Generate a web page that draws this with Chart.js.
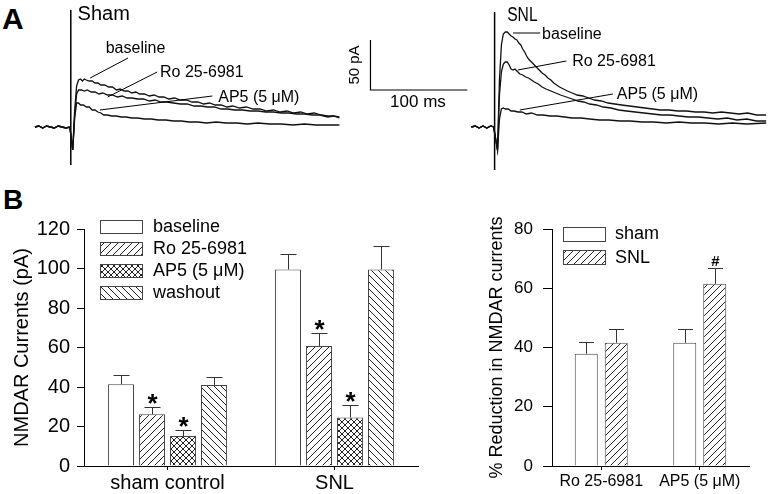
<!DOCTYPE html>
<html><head><meta charset="utf-8">
<script src="https://cdn.jsdelivr.net/npm/chart.js@4"></script>
<style>
html,body{margin:0;padding:0;background:#fff;width:771px;height:494px;overflow:hidden;font-family:"Liberation Sans",Arial,sans-serif;}
.c{position:absolute;}
.lbl{position:absolute;font-weight:bold;line-height:1;color:#000;}
</style></head><body>
<div class="lbl" style="left:2px;top:4px;font-size:30px">A</div>
<div class="lbl" style="left:3px;top:186px;font-size:28px">B</div>
<canvas id="ca" class="c" style="left:0;top:0" width="771" height="170"></canvas>
<canvas id="cb1" class="c" style="left:0;top:200px" width="440" height="294"></canvas>
<canvas id="cb2" class="c" style="left:470px;top:200px" width="301" height="294"></canvas>
<script>
// ---------- Panel A : NMDAR current traces (t in ms from stimulus, current in pA) ----------
const panelAWidthMs = 795;
const shamOnset = 73;
const snlOnset = 510;
const shamPre = [[-37,0],[-33,1],[-29,-1],[-25,1],[-21,0],[-17,-1],[-13,1],[-9,0],[-5,-1],[-1,0]];
const snlPre = [[-24,0],[-20,1],[-16,-1],[-12,1],[-8,-1],[-4,1],[-1,0]];
const shamBaseline = [[2,-23],[4,17],[6,41],[8,47],[10,48],[12,46],[14,48],[16,47],[19,46],[22,46],[25,44],[28,44],[31,42],[35,42],[39,40],[43,40],[47,37],[51,38],[55,36],[59,36],[63,34],[67,35],[71,33],[76,33],[81,31],[86,32],[91,30],[96,30],[101,28],[107,29],[113,27],[119,27],[125,25],[131,25],[137,23],[143,24],[149,22],[155,22],[161,20],[167,21],[174,19],[181,20],[188,18],[195,18],[202,16],[209,17],[216,15],[223,16],[230,14],[237,15],[244,13],[251,14],[258,12],[265,11],[271,11],[277,10]];
const shamRo = [[2,-23],[4,12],[6,33],[8,37],[11,37],[14,36],[17,37],[21,35],[25,35],[29,33],[33,34],[38,32],[43,32],[48,30],[53,31],[58,29],[63,29],[69,28],[75,28],[81,26],[87,27],[93,25],[99,25],[106,24],[113,23],[120,23],[127,21],[134,21],[141,20],[148,20],[155,18],[162,18],[169,17],[177,17],[185,16],[193,16],[201,15],[209,15],[217,14],[225,14],[233,13],[241,13],[249,12],[257,12],[265,10],[271,11],[277,9]];
const shamAP5 = [[2,-23],[4,9],[6,24],[8,24],[10,22],[13,22],[16,20],[19,20],[22,17],[25,17],[28,15],[31,14],[34,12],[38,12],[42,11],[47,11],[52,10],[57,10],[63,9],[69,9],[76,8],[83,8],[90,7],[98,7],[106,6],[114,6],[122,5],[131,5],[140,4],[150,5],[160,4],[171,4],[182,3],[193,4],[205,3],[217,3],[229,2],[241,3],[253,2],[265,2],[277,2]];
const snlBaseline = [[3,-23],[5,47],[7,82],[9,93],[11,95],[13,95],[15,93],[17,91],[19,90],[21,88],[23,87],[25,84],[27,82],[29,78],[31,75],[33,71],[35,68],[37,66],[39,64],[41,62],[43,60],[45,58],[47,56],[49,54],[52,52],[55,49],[58,47],[61,44],[64,42],[67,40],[71,38],[75,36],[80,34],[85,32],[91,31],[97,29],[103,27],[110,26],[117,24],[124,23],[131,22],[139,21],[147,20],[155,19],[163,18],[171,17],[180,17],[189,16],[198,16],[207,15],[216,15],[225,14],[234,15],[243,14],[252,13],[261,14],[270,12],[280,12]];
const snlRo = [[3,-23],[5,32],[7,55],[9,63],[11,65],[13,65],[15,62],[17,58],[19,57],[21,58],[23,56],[26,53],[29,52],[32,50],[35,49],[38,47],[41,45],[45,43],[49,40],[53,38],[58,36],[63,34],[68,32],[74,30],[80,28],[86,26],[92,25],[98,23],[105,22],[112,20],[120,19],[128,17],[136,16],[145,15],[154,14],[163,13],[172,12],[181,12],[190,11],[200,10],[210,10],[220,9],[230,8],[240,9],[250,7],[260,8],[270,6],[280,6]];
const snlAP5 = [[3,-23],[5,8],[7,18],[9,19],[11,18],[14,18],[17,16],[20,16],[24,15],[28,15],[33,13],[38,14],[44,12],[50,12],[57,11],[64,11],[72,10],[80,9],[89,9],[98,8],[108,7],[118,7],[129,6],[140,6],[152,5],[164,5],[177,4],[190,5],[203,4],[217,4],[231,3],[245,4],[260,3],[280,4]];
const shamArtifact = [[0,117],[0,-38]];
const snlArtifact = [[0,115],[0,-43]];
const scaleBarCorner = [309,37];   // relative to sham onset
const scaleBarMs = 100;
const scaleBarPA = 50;

// ---------- Panel B left : NMDAR currents (pA) ----------
const groups = ['sham control','SNL'];
const conditions = ['baseline','Ro 25-6981','AP5 (5 μM)','washout'];
const baselineMean = [41.4, 99.5];
const baselineSem  = [4.5, 7.7];
const roMean       = [26.2, 60.8];
const roSem        = [3.8, 6.4];
const ap5Mean      = [15.2, 24.6];
const ap5Sem       = [2.9, 6.3];
const washoutMean  = [41.0, 99.5];
const washoutSem   = [4.2, 11.8];
const baselineMark = ['', ''];
const roMark       = ['*', '*'];
const ap5Mark      = ['*', '*'];
const washoutMark  = ['', ''];
const leftTicks = [0,20,40,60,80,100,120];

// ---------- Panel B right : % reduction ----------
const reductionCats = ['Ro 25-6981','AP5 (5 μM)'];
const reductionGroups = ['sham','SNL'];
const shamReduction = [37.9, 41.6];
const shamReductionSem = [4.0, 4.7];
const snlReduction = [41.6, 61.5];
const snlReductionSem = [4.5, 5.5];
const shamRedMark = ['', ''];
const snlRedMark = ['', '#'];
const rightTicks = [0,20,40,60,80];

const FONT = "'Liberation Sans', Arial, sans-serif";
Chart.defaults.font.family = FONT;
Chart.defaults.color = '#000';

function makePattern(kind, s){
  const c = document.createElement('canvas'); c.width = s; c.height = s;
  const g = c.getContext('2d');
  g.fillStyle = '#fff'; g.fillRect(0,0,s,s);
  g.strokeStyle = '#222'; g.lineWidth = 1;
  g.beginPath();
  if (kind === 'fwd' || kind === 'cross') {
    g.moveTo(-1, s+1); g.lineTo(s+1, -1);
    g.moveTo(-1, 1); g.lineTo(1, -1);
    g.moveTo(s-1, s+1); g.lineTo(s+1, s-1);
  }
  if (kind === 'back' || kind === 'cross') {
    g.moveTo(-1, -1); g.lineTo(s+1, s+1);
    g.moveTo(-1, s-1); g.lineTo(1, s+1);
    g.moveTo(s-1, -1); g.lineTo(s+1, 1);
  }
  g.stroke();
  return g.createPattern(c, 'repeat');
}
const patFwd = makePattern('fwd', 7);
const patBack = makePattern('back', 7);
const patCross = makePattern('cross', 6);

const pts = (arr, off) => arr.map(p => ({x: p[0] + off, y: p[1]}));

// ---- plugins ----
const panelAnnot = {
  id: 'panelAnnot',
  afterDatasetsDraw(chart, args, o) {
    const {ctx} = chart; const xs = chart.scales.x, ys = chart.scales.y;
    const P = (off, t, v) => [xs.getPixelForValue(off + t), ys.getPixelForValue(v)];
    o.items.forEach(it => {
      ctx.save();
      ctx.strokeStyle = '#000'; ctx.fillStyle = '#000'; ctx.lineWidth = 1;
      if (it.line) {
        const a = P(it.off, it.line[0], it.line[1]), b = P(it.off, it.line[2], it.line[3]);
        ctx.beginPath(); ctx.moveTo(a[0], a[1]); ctx.lineTo(b[0], b[1]); ctx.stroke();
      }
      if (it.text) {
        const p = P(it.off, it.t, it.v);
        ctx.font = it.font; ctx.textBaseline = 'middle'; ctx.textAlign = it.align || 'left';
        ctx.translate(p[0], p[1]);
        if (it.rot) ctx.rotate(it.rot);
        if (it.sx) ctx.scale(it.sx, 1);
        ctx.fillText(it.text, 0, 0);
      }
      ctx.restore();
    });
  }
};

const errBars = {
  id: 'errBars',
  afterDatasetsDraw(chart, args, o) {
    const {ctx} = chart; const y = chart.scales.y;
    chart.data.datasets.forEach((ds, i) => {
      const meta = chart.getDatasetMeta(i);
      meta.data.forEach((bar, j) => {
        const v = ds.data[j], e = ds.errors[j];
        const yTop = y.getPixelForValue(v), yErr = Math.round(y.getPixelForValue(v + e)) + 0.5;
        const x = Math.round(bar.x) + 0.5;
        ctx.save();
        ctx.strokeStyle = o.color; ctx.lineWidth = 1;
        ctx.beginPath(); ctx.moveTo(x, yTop); ctx.lineTo(x, yErr);
        ctx.moveTo(x - o.cap/2, yErr); ctx.lineTo(x + o.cap/2, yErr); ctx.stroke();
        const m = ds.marks && ds.marks[j];
        if (m) {
          ctx.fillStyle = '#000';
          ctx.font = m === '#' ? o.hashFont : o.starFont;
          ctx.textAlign = 'center'; ctx.textBaseline = 'alphabetic';
          const mt = ctx.measureText(m);
          const cy = yErr - (m === '#' ? o.hashGap : o.starGap);
          const base = cy + (mt.actualBoundingBoxAscent - mt.actualBoundingBoxDescent) / 2;
          ctx.fillText(m, x, base);
        }
        ctx.restore();
      });
    });
  }
};

const boxLegend = {
  id: 'boxLegend',
  afterDraw(chart, args, o) {
    const {ctx, chartArea: a} = chart;
    chart.data.datasets.forEach((ds, i) => {
      const x = Math.round(a.left + o.dx), yc = a.top + o.dy + i * o.row;
      const y0 = Math.round(yc - o.h/2);
      ctx.save();
      ctx.fillStyle = ds.backgroundColor; ctx.fillRect(x, y0, o.w, o.h);
      ctx.strokeStyle = '#444'; ctx.lineWidth = 1; ctx.strokeRect(x + 0.5, y0 + 0.5, o.w, o.h);
      ctx.fillStyle = '#000'; ctx.font = o.font; ctx.textBaseline = 'middle'; ctx.textAlign = 'left';
      ctx.fillText(ds.label, x + o.w + o.gap, yc + 1);
      ctx.restore();
    });
  }
};

// ---- Panel A chart ----
const traceDs = (label, arr, pre, off) => ({label, data: pts(pre.concat(arr), off), showLine: true, pointRadius: 0, borderColor: '#111', borderWidth: 1.3, tension: 0});
const sbx = scaleBarCorner[0], sby = scaleBarCorner[1];
new Chart(document.getElementById('ca'), {
  type: 'scatter',
  data: { datasets: [
    traceDs('Sham baseline', shamBaseline, shamPre, shamOnset),
    traceDs('Sham Ro 25-6981', shamRo, shamPre, shamOnset),
    traceDs('Sham AP5', shamAP5, shamPre, shamOnset),
    {label: 'Sham artifact', data: pts(shamArtifact, shamOnset), showLine: true, pointRadius: 0, borderColor: '#000', borderWidth: 1.5},
    traceDs('SNL baseline', snlBaseline, snlPre, snlOnset),
    traceDs('SNL Ro 25-6981', snlRo, snlPre, snlOnset),
    traceDs('SNL AP5', snlAP5, snlPre, snlOnset),
    {label: 'SNL artifact', data: pts(snlArtifact, snlOnset), showLine: true, pointRadius: 0, borderColor: '#000', borderWidth: 1.5},
    {label: 'scale bar', data: pts([[sbx, sby + scaleBarPA],[sbx, sby],[sbx + scaleBarMs, sby]], shamOnset), showLine: true, pointRadius: 0, borderColor: '#000', borderWidth: 1.2}
  ]},
  options: {
    responsive: false, animation: false, events: [],
    layout: {padding: 0},
    plugins: {legend: {display: false}, tooltip: {enabled: false},
      panelAnnot: {items: [
        {off: shamOnset, t: 7, v: 113, text: 'Sham', font: '20px ' + FONT},
        {off: shamOnset, t: 36, v: 78, text: 'baseline', font: '16px ' + FONT, line: [59, 69, 20, 49]},
        {off: shamOnset, t: 92, v: 54, text: 'Ro 25-6981', font: '16px ' + FONT, line: [89, 55, 38, 30]},
        {off: shamOnset, t: 152, v: 29, text: 'AP5 (5 μM)', font: '16px ' + FONT, line: [146, 31, 30, 17]},
        {off: shamOnset, t: 293, v: 62, text: '50 pA', font: '15px ' + FONT, align: 'center', rot: -Math.PI/2},
        {off: shamOnset, t: 358, v: 25, text: '100 ms', font: '17px ' + FONT, align: 'center'},
        {off: snlOnset, t: 13, v: 112, text: 'SNL', font: '20px ' + FONT, sx: 0.78},
        {off: snlOnset, t: 49, v: 92, text: 'baseline', font: '16px ' + FONT, line: [19, 94, 47, 94]},
        {off: snlOnset, t: 80, v: 65, text: 'Ro 25-6981', font: '16px ' + FONT, line: [24, 57, 74, 66]},
        {off: snlOnset, t: 126, v: 32, text: 'AP5 (5 μM)', font: '16px ' + FONT, line: [26, 17, 122, 33]}
      ]}
    },
    scales: {
      x: {type: 'linear', min: 0, max: panelAWidthMs, display: false},
      y: {type: 'linear', min: -43, max: 127, display: false}
    }
  },
  plugins: [panelAnnot]
});

// ---- Panel B left ----
const barDs = (label, data, errors, marks, bg) => ({label, data, errors, marks, backgroundColor: bg, borderColor: '#444', borderWidth: 1, borderSkipped: 'start'});
new Chart(document.getElementById('cb1'), {
  type: 'bar',
  data: { labels: groups, datasets: [
    barDs(conditions[0], baselineMean, baselineSem, baselineMark, '#fff'),
    barDs(conditions[1], roMean, roSem, roMark, patFwd),
    barDs(conditions[2], ap5Mean, ap5Sem, ap5Mark, patCross),
    barDs(conditions[3], washoutMean, washoutSem, washoutMark, patBack)
  ]},
  options: {
    responsive: false, animation: false, events: [],
    layout: {padding: {top: 29, right: 22, left: 0, bottom: 0}},
    datasets: {bar: {categoryPercentage: 0.743, barPercentage: 0.84}},
    plugins: {legend: {display: false}, tooltip: {enabled: false},
      errBars: {color: '#333', cap: 16, starFont: 'bold 26px ' + FONT, starGap: 9, hashFont: 'bold 15px ' + FONT, hashGap: 8},
      boxLegend: {dx: 16, dy: -2.5, row: 22, w: 42, h: 13, gap: 11, font: '18px ' + FONT}
    },
    scales: {
      x: {
        grid: {display: true, drawOnChartArea: false, offset: false, tickLength: 4, color: '#000'},
        border: {display: true, color: '#000', width: 1},
        ticks: {font: {size: 20}, color: '#000', padding: 1},
        afterFit(s) { s.height = 28; }
      },
      y: {
        min: 0, max: 120,
        afterBuildTicks(s) { s.ticks = leftTicks.map(v => ({value: v})); },
        grid: {display: true, drawOnChartArea: false, tickLength: 7, color: '#000'},
        border: {display: true, color: '#000', width: 1},
        ticks: {font: {size: 20}, color: '#000', padding: 7},
        title: {display: true, text: 'NMDAR Currents (pA)', font: {size: 20}, color: '#000', padding: {top: 10, bottom: 0}},
        afterFit(s) { s.width = 84; }
      }
    }
  },
  plugins: [errBars, boxLegend]
});

// ---- Panel B right ----
new Chart(document.getElementById('cb2'), {
  type: 'bar',
  data: { labels: reductionCats, datasets: [
    barDs(reductionGroups[0], shamReduction, shamReductionSem, shamRedMark, '#fff'),
    barDs(reductionGroups[1], snlReduction, snlReductionSem, snlRedMark, patFwd)
  ]},
  options: {
    responsive: false, animation: false, events: [],
    layout: {padding: {top: 29, right: 22, left: 0, bottom: 0}},
    datasets: {bar: {categoryPercentage: 0.609, barPercentage: 0.767}},
    plugins: {legend: {display: false}, tooltip: {enabled: false},
      errBars: {color: '#333', cap: 15, starFont: 'bold 26px ' + FONT, starGap: 9, hashFont: 'bold 15px ' + FONT, hashGap: 8},
      boxLegend: {dx: 11, dy: 4.5, row: 23.5, w: 42, h: 14, gap: 10, font: '18px ' + FONT}
    },
    scales: {
      x: {
        grid: {display: true, drawOnChartArea: false, offset: false, tickLength: 4, color: '#000'},
        border: {display: true, color: '#000', width: 1},
        ticks: {font: {size: 16}, color: '#000', padding: 2},
        afterFit(s) { s.height = 28; }
      },
      y: {
        min: 0, max: 80,
        afterBuildTicks(s) { s.ticks = rightTicks.map(v => ({value: v})); },
        grid: {display: true, drawOnChartArea: false, tickLength: 9, color: '#000'},
        border: {display: true, color: '#000', width: 1},
        ticks: {font: {size: 17}, color: '#000', padding: 10},
        title: {display: true, text: '% Reduction in NMDAR currents', font: {size: 18}, color: '#000', padding: {top: 16, bottom: 0}},
        afterFit(s) { s.width = 82; }
      }
    }
  },
  plugins: [errBars, boxLegend]
});
</script>
</body></html>
